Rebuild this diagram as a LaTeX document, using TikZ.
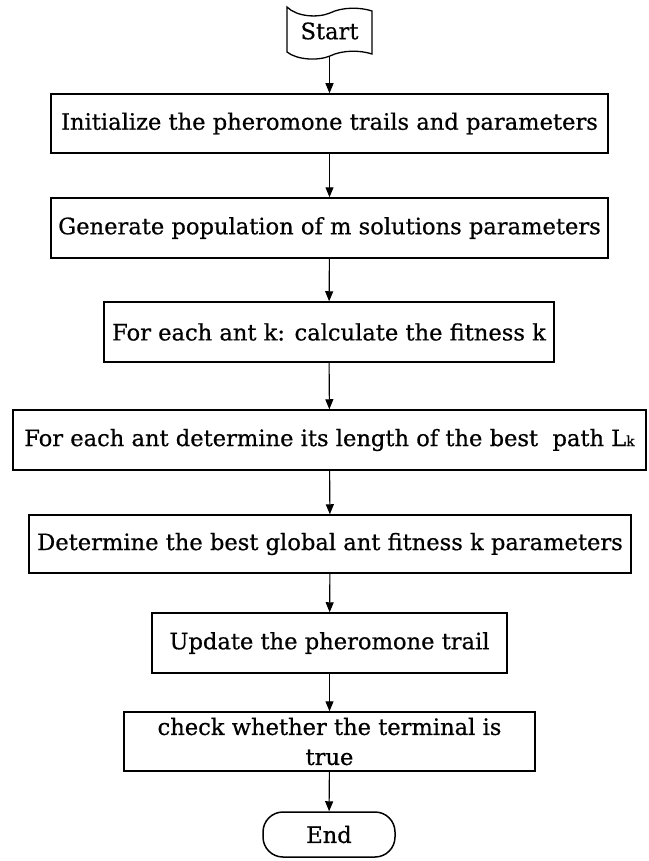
\documentclass[tikz,border=0pt]{standalone}
\usepackage{fontspec}
\setmainfont{DejaVu Serif}[FakeBold=0.6]
\usetikzlibrary{arrows.meta}
\tikzset{
  stepbox/.style={draw, line width=1.5pt, rectangle, inner sep=0pt, align=center},
  endbox/.style={draw, line width=1.5pt, rounded corners=20pt, inner sep=0pt},
  flow/.style={line width=1.1pt, -{Triangle[length=10pt,width=8pt]}},
  every node/.style={font=\fontsize{22.6}{30}\selectfont}
}
\begin{document}
\begin{tikzpicture}[x=1pt,y=-1pt]
\useasboundingbox (0,0) rectangle (648,861);

% start banner
\draw[line width=1.3pt]
  (287,7) .. controls (297,17) and (318,18) .. (330,13)
          .. controls (342,7) and (360,7) .. (372,11)
  -- (372,54)
          .. controls (360,50) and (342,50) .. (330,56)
          .. controls (318,61) and (297,60) .. (287,52) -- cycle;
\node (start) at (329.5,31) {Start};
\coordinate (startout) at (329.5,57);

\node[stepbox, minimum width=557pt, minimum height=59pt] (b1) at (329.5,123.5)
  {Initialize the pheromone trails and parameters};
\node[stepbox, minimum width=557pt, minimum height=60pt] (b2) at (329.5,228)
  {Generate population of m solutions parameters};
\node[stepbox, minimum width=450pt, minimum height=60pt] (b3) at (329,332)
  {For each ant k: calculate the fitness k};
\node[stepbox, minimum width=633pt, minimum height=60pt] (b4) at (329.5,440)
  {For each ant determine its length of the best\ \ path L{\fontsize{14}{14}\selectfont k}};
\node[stepbox, minimum width=602pt, minimum height=58pt] (b5) at (330,544)
  {Determine the best global ant fitness k parameters};
\node[stepbox, minimum width=355pt, minimum height=60pt] (b6) at (329.5,643)
  {Update the pheromone trail};
\node[stepbox, minimum width=411pt, minimum height=59pt] (b7) at (329.5,741.5)
  {check whether the terminal is\\true};
\node[endbox, minimum width=132pt, minimum height=45pt] (end) at (329,834.5) {End};

\draw[flow] (startout) -- (b1.north);
\draw[flow] (b1) -- (b2);
\draw[flow] (b2) -- (b3);
\draw[flow] (b3) -- (b4);
\draw[flow] (b4) -- (b5);
\draw[flow] (b5) -- (b6);
\draw[flow] (b6) -- (b7);
\draw[flow] (b7) -- (end);
\end{tikzpicture}
\end{document}
